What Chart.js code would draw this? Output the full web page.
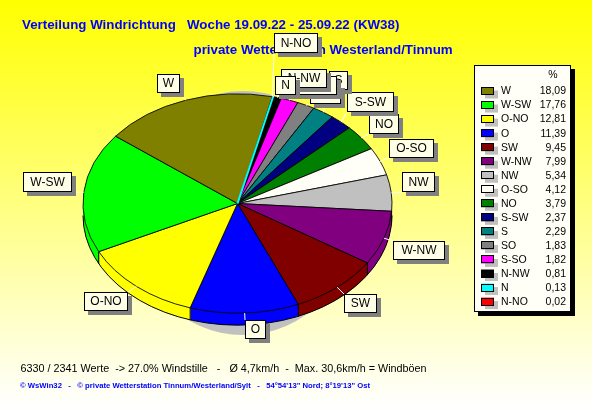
<!DOCTYPE html>
<html>
<head>
<meta charset="utf-8">
<title>Verteilung Windrichtung</title>
<script src="https://cdn.jsdelivr.net/npm/chart.js@4/dist/chart.umd.min.js"></script>
<style>
  html, body { margin: 0; padding: 0; background: #fff; overflow: hidden; }
  canvas { display: block; }
</style>
</head>
<body>
<canvas id="myChart" width="592" height="407"></canvas>
<script>
const directions = ['W', 'W-SW', 'O-NO', 'O', 'SW', 'W-NW', 'NW', 'O-SO', 'NO', 'S-SW', 'S', 'SO', 'S-SO', 'N-NW', 'N', 'N-NO'];
const percents = [18.09, 17.76, 12.81, 11.39, 9.45, 7.99, 5.34, 4.12, 3.79, 2.37, 2.29, 1.83, 1.82, 0.81, 0.13, 0.02];
const percentLabels = ['18,09', '17,76', '12,81', '11,39', '9,45', '7,99', '5,34', '4,12', '3,79', '2,37', '2,29', '1,83', '1,82', '0,81', '0,13', '0,02'];
const colors = ['#808000', '#00ff00', '#ffff00', '#0000ff', '#800000', '#800080', '#c0c0c0', '#fffff8', '#008000', '#000080', '#008080', '#808080', '#ff00ff', '#000000', '#00ffff', '#ff0000'];

const title1 = 'Verteilung Windrichtung   Woche 19.09.22 - 25.09.22 (KW38)';
const title2 = 'private Wetterstation Westerland/Tinnum';
const footer1 = '6330 / 2341 Werte  -> 27.0% Windstille   -   Ø 4,7km/h  -  Max. 30,6km/h = Windböen';
const footer2 = '© WsWin32   -   © private Wetterstation Tinnum/Westerland/Sylt   -   54°54\'13" Nord; 8°19\'13" Ost';

// callout boxes [x0, y0, x1, y1], same order as directions
const labelBoxes = [
  [157, 74, 180, 93], [23, 172, 72, 192], [84, 292, 128, 311], [245, 320, 266, 339],
  [344, 294, 377, 313], [393, 241, 445, 260], [402, 172, 435, 192], [389, 139, 434, 158],
  [369, 114, 399, 134], [347, 92, 394, 112], [329, 71, 348, 90], [310, 84, 341, 104],
  [292, 76, 337, 95], [281, 69, 327, 88], [275, 76, 296, 95], [274, 33, 318, 53]
];

const squash = 110 / 155;  // top face ellipse
const depth = 12;

function rimPoint(arc, angle, dy) {
  return {
    x: arc.x + Math.cos(angle) * arc.outerRadius,
    y: arc.y + Math.sin(angle) * arc.outerRadius * squash + (dy || 0)
  };
}

function squashed(ctx, arc, dy) {
  ctx.translate(0, arc.y + dy);
  ctx.scale(1, squash);
  ctx.translate(0, -arc.y);
}

const piePlugin = {
  id: 'pie3d',
  beforeDraw(chart) {
    const ctx = chart.ctx;
    const bg = ctx.createLinearGradient(0, 0, 0, 407);
    bg.addColorStop(0, '#ffff00');
    bg.addColorStop(1, '#ffffff');
    ctx.fillStyle = bg;
    ctx.fillRect(0, 0, 592, 407);

    ctx.fillStyle = '#0000ff';
    ctx.font = 'bold 13.33px "Liberation Sans"';
    ctx.textBaseline = 'middle';
    ctx.textAlign = 'left';
    ctx.fillText(title1, 22, 25);
    ctx.fillText(title2, 193.5, 50);

    ctx.fillStyle = '#000';
    ctx.font = '10.8px "Liberation Sans"';
    ctx.fillText(footer1, 20.5, 369);
    ctx.fillStyle = '#0000ff';
    ctx.font = 'bold 7.7px "Liberation Sans"';
    ctx.fillText(footer2, 20, 386);
  },
  beforeDatasetsDraw(chart) {
    const ctx = chart.ctx;
    const arcs = chart.getDatasetMeta(0).data;
    const colorList = chart.data.datasets[0].backgroundColor;
    const first = arcs[0];

    // grey shadow behind the pie
    ctx.fillStyle = '#c0c0c0';
    ctx.beginPath();
    ctx.ellipse(243, 213, 114, 122, 0, 0, Math.PI * 2);
    ctx.fill();

    // side wall, stacked from the bottom up
    for (let d = depth; d > 0; d--) {
      arcs.forEach((arc, i) => {
        ctx.save();
        squashed(ctx, arc, d);
        ctx.fillStyle = colorList[i];
        ctx.beginPath();
        ctx.moveTo(arc.x, arc.y);
        ctx.arc(arc.x, arc.y, arc.outerRadius, arc.startAngle, arc.endAngle);
        ctx.closePath();
        ctx.fill();
        ctx.restore();
      });
    }

    // outline of the wall
    ctx.save();
    squashed(ctx, first, depth);
    ctx.beginPath();
    ctx.arc(first.x, first.y, first.outerRadius, 0, Math.PI);
    ctx.restore();
    ctx.strokeStyle = '#000';
    ctx.lineWidth = 1;
    ctx.stroke();

    arcs.forEach((arc) => {
      const a = ((arc.startAngle % (Math.PI * 2)) + Math.PI * 2) % (Math.PI * 2);
      if (a < Math.PI) {
        const p = rimPoint(arc, a);
        ctx.beginPath();
        ctx.moveTo(p.x, p.y);
        ctx.lineTo(p.x, p.y + depth);
        ctx.stroke();
      }
    });

    // top face goes through the library's own arc drawing
    ctx.save();
    squashed(ctx, first, 0);
  },
  afterDatasetsDraw(chart) {
    const ctx = chart.ctx;
    const arcs = chart.getDatasetMeta(0).data;
    const names = chart.data.labels;

    // the thin N slice would vanish under its neighbours' borders
    const thin = arcs[names.indexOf('N')];
    ctx.strokeStyle = colors[directions.indexOf('N')];
    ctx.lineWidth = 2;
    ctx.beginPath();
    ctx.moveTo(thin.x, thin.y);
    const mid = (thin.startAngle + thin.endAngle) / 2;
    ctx.lineTo(thin.x + Math.cos(mid) * thin.outerRadius, thin.y + Math.sin(mid) * thin.outerRadius);
    ctx.stroke();
    ctx.restore();

    // callouts in legend order, later ones on top
    ctx.font = '12px "Liberation Sans"';
    ctx.textAlign = 'center';
    ctx.textBaseline = 'middle';
    directions.forEach((name, i) => {
      const arc = arcs[names.indexOf(name)];
      const box = labelBoxes[i];
      const p = rimPoint(arc, (arc.startAngle + arc.endAngle) / 2);
      const ex = Math.min(Math.max(p.x, box[0]), box[2]);
      const ey = Math.min(Math.max(p.y, box[1]), box[3]);
      ctx.strokeStyle = '#fff';
      ctx.lineWidth = 1;
      ctx.beginPath();
      ctx.moveTo(p.x, p.y);
      ctx.lineTo(ex, ey);
      ctx.stroke();

      ctx.fillStyle = '#808080';
      ctx.fillRect(box[0] + 4, box[1] + 4, box[2] - box[0], box[3] - box[1]);
      ctx.fillStyle = '#ffffe8';
      ctx.fillRect(box[0], box[1], box[2] - box[0], box[3] - box[1]);
      ctx.strokeStyle = '#000';
      ctx.strokeRect(box[0] + 0.5, box[1] + 0.5, box[2] - box[0] - 1, box[3] - box[1] - 1);
      ctx.fillStyle = '#000';
      ctx.fillText(name, (box[0] + box[2]) / 2, (box[1] + box[3]) / 2 + 0.5);
    });

    // legend table
    ctx.fillStyle = '#000';
    ctx.fillRect(478, 69, 97, 247);
    ctx.fillStyle = '#fffff8';
    ctx.fillRect(474, 65, 97, 247);
    ctx.strokeStyle = '#000';
    ctx.strokeRect(474.5, 65.5, 96, 246);

    ctx.font = '10.5px "Liberation Sans"';
    ctx.textBaseline = 'middle';
    ctx.fillStyle = '#000';
    ctx.textAlign = 'center';
    ctx.fillText('%', 553, 75);
    directions.forEach((name, i) => {
      const y = 91 + i * 14.04;
      ctx.fillStyle = '#c0c0c0';
      ctx.fillRect(485, y - 0.5, 13, 8);
      ctx.fillStyle = colors[i];
      ctx.fillRect(481, y - 4, 13, 8);
      ctx.strokeStyle = '#000';
      ctx.strokeRect(481.5, Math.round(y - 4) + 0.5, 12, 7);
      ctx.fillStyle = '#000';
      ctx.textAlign = 'left';
      ctx.fillText(name, 501, y + 0.5);
      ctx.textAlign = 'right';
      ctx.fillText(percentLabels[i], 566, y + 0.5);
    });
  }
};

// the pie runs clockwise from the smallest value
new Chart(document.getElementById('myChart'), {
  type: 'pie',
  data: {
    labels: directions.slice().reverse(),
    datasets: [{
      data: percents.slice().reverse(),
      backgroundColor: colors.slice().reverse(),
      borderColor: '#000',
      borderWidth: 1,
      hoverOffset: 0,
      clip: false
    }]
  },
  options: {
    responsive: false,
    animation: false,
    events: [],
    rotation: 13,
    layout: { padding: { left: 82.5, right: 199.5, top: 48.5, bottom: 48.5 } },
    plugins: { legend: { display: false }, title: { display: false }, tooltip: { enabled: false } }
  },
  plugins: [piePlugin]
});
</script>
</body>
</html>
